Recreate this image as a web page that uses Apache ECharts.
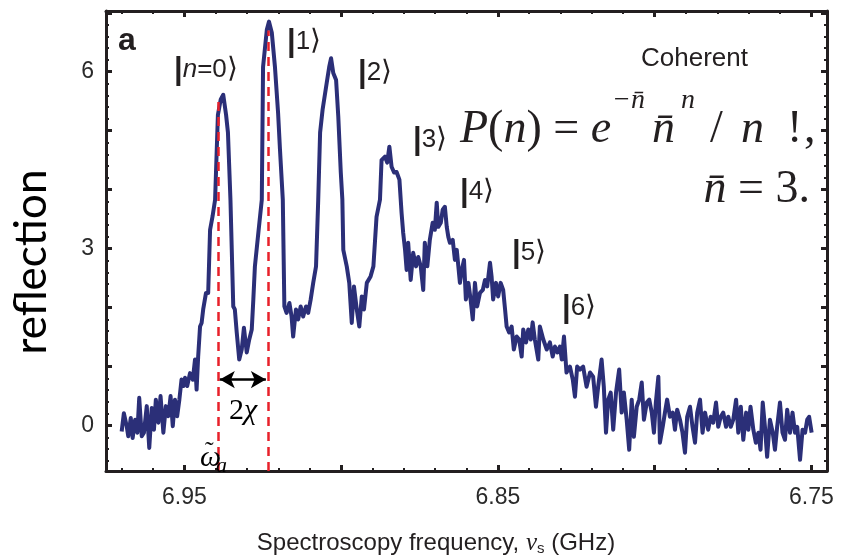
<!DOCTYPE html>
<html><head><meta charset="utf-8">
<script src="https://cdn.jsdelivr.net/npm/echarts@6/dist/echarts.min.js"></script>
<style>html,body{margin:0;padding:0;background:#fff}#c{width:841px;height:558px}</style>
</head><body><div id="c"></div>
<script>
// ---- data ----
const freq = [
6.9700,6.9693,6.9684,6.9679,6.9671,6.9665,6.9657,6.9650,6.9644,6.9636,6.9629,6.9620,6.9612,6.9604,6.9597,6.9591,6.9583,6.9576,6.9567,6.9559,
6.9551,6.9544,6.9537,6.9530,6.9523,6.9516,6.9509,6.9503,6.9498,6.9491,6.9482,6.9473,6.9466,6.9461,6.9456,6.9450,6.9445,6.9440,6.9431,6.9424,
6.9418,6.9410,6.9402,6.9393,6.9384,6.9376,6.9367,6.9361,6.9353,6.9344,6.9339,6.9333,6.9325,6.9317,6.9310,6.9301,6.9293,6.9285,6.9280,6.9275,
6.9264,6.9253,6.9249,6.9237,6.9230,6.9221,6.9211,6.9201,6.9195,6.9186,6.9181,6.9174,6.9165,6.9158,6.9153,6.9144,6.9137,6.9129,6.9121,6.9112,
6.9105,6.9097,6.9089,6.9080,6.9073,6.9067,6.9059,6.9046,6.9038,6.9032,6.9025,6.9016,6.9009,6.9001,6.8996,6.8993,6.8982,6.8974,6.8966,6.8959,
6.8950,6.8942,6.8934,6.8927,6.8918,6.8906,6.8897,6.8887,6.8876,6.8871,6.8860,6.8853,6.8846,6.8839,6.8831,6.8823,6.8814,6.8807,6.8802,6.8796,
6.8791,6.8786,6.8778,6.8770,6.8761,6.8754,6.8746,6.8738,6.8733,6.8725,6.8717,6.8708,6.8701,6.8695,6.8690,6.8682,6.8676,6.8669,6.8663,6.8658,
6.8653,6.8644,6.8637,6.8631,6.8626,6.8621,6.8615,6.8608,6.8602,6.8594,6.8587,6.8580,6.8573,6.8566,6.8557,6.8548,6.8541,6.8534,6.8525,6.8520,
6.8515,6.8506,6.8499,6.8491,6.8483,6.8477,6.8472,6.8464,6.8456,6.8449,6.8440,6.8432,6.8424,6.8419,6.8410,6.8403,6.8395,6.8389,6.8382,6.8371,
6.8366,6.8355,6.8344,6.8334,6.8325,6.8318,6.8310,6.8302,6.8296,6.8289,6.8281,6.8270,6.8261,6.8254,6.8247,6.8238,6.8228,6.8217,6.8206,6.8196,
6.8187,6.8180,6.8169,6.8162,6.8155,6.8148,6.8140,6.8132,6.8123,6.8113,6.8105,6.8098,6.8089,6.8081,6.8073,6.8066,6.8057,6.8049,6.8041,6.8034,
6.8025,6.8017,6.8009,6.8002,6.7996,6.7988,6.7983,6.7974,6.7967,6.7960,6.7951,6.7942,6.7935,6.7928,6.7919,6.7911,6.7903,6.7896,6.7887,6.7879,
6.7871,6.7864,6.7855,6.7847,6.7839,6.7829,6.7821,6.7813,6.7804,6.7797,6.7789,6.7781,6.7772,6.7765,6.7757,6.7749,6.7740,6.7733,6.7725,6.7717,
6.7708,6.7701,6.7694,6.7685,6.7677,6.7669,6.7662,6.7655,6.7648,6.7641,6.7632,6.7623,6.7616,6.7609,6.7600,6.7592,6.7584,6.7577,6.7568,6.7560,
6.7552,6.7545,6.7536,6.7528,6.7520,6.7513,6.7507,6.7499
];
const refl = [
-0.10,0.21,-0.01,-0.18,0.13,-0.21,0.10,-0.12,0.47,-0.18,-0.12,0.33,-0.38,0.30,-0.07,0.44,0.05,0.50,-0.12,0.33,
0.16,0.50,-0.01,0.44,0.16,0.44,0.78,0.67,0.81,0.67,0.89,0.78,1.12,0.61,1.17,1.68,1.74,1.97,2.25,2.25,
3.32,3.55,3.83,5.27,5.53,5.61,5.27,4.97,3.83,2.02,1.97,1.58,1.12,1.29,1.66,1.24,1.46,1.63,2.14,2.70,
3.27,3.83,6.08,6.71,6.85,6.66,6.08,5.30,4.68,3.83,2.02,1.91,2.08,1.85,1.51,1.97,1.80,2.02,1.85,2.02,
1.91,2.14,2.42,2.70,3.83,4.97,5.36,5.81,6.08,6.23,5.98,5.86,5.24,4.29,3.83,2.98,2.70,2.42,1.74,2.36,
1.97,1.68,2.19,1.97,2.42,2.53,2.70,3.54,3.83,4.50,4.56,4.46,4.73,4.39,4.29,4.30,4.17,3.60,3.27,2.98,
2.64,3.10,2.47,2.93,2.70,2.86,2.70,2.30,3.10,2.70,3.15,3.44,3.32,3.78,3.37,3.44,3.66,3.71,3.37,3.20,
3.10,3.15,2.81,2.98,2.70,2.42,2.64,2.81,2.14,2.42,2.14,1.80,2.42,2.02,2.25,2.30,2.47,2.36,2.76,2.53,
2.14,2.42,2.19,2.42,2.30,1.97,1.68,1.58,1.68,1.29,1.51,1.46,1.17,1.63,1.41,1.63,1.46,1.75,1.46,1.12,
1.68,1.46,1.29,1.41,1.17,1.34,1.24,1.34,1.12,1.51,0.90,1.00,0.78,0.49,1.00,0.95,1.00,0.66,0.90,0.83,
0.32,0.66,1.12,0.66,-0.12,0.44,0.56,-0.07,0.56,0.95,0.22,0.56,0.10,-0.41,0.44,-0.19,0.32,0.44,0.73,0.10,
0.39,0.44,0.22,-0.12,0.39,0.83,-0.29,-0.02,0.22,0.44,0.15,0.22,-0.07,0.27,0.10,-0.12,-0.46,0.15,0.32,-0.02,
-0.29,0.22,0.44,-0.12,0.22,-0.07,0.15,0.05,0.39,-0.02,0.15,0.22,-0.02,0.15,-0.02,0.10,0.44,-0.12,0.32,-0.24,
0.22,-0.07,0.32,-0.07,-0.29,-0.12,-0.41,0.39,-0.02,-0.53,0.10,-0.12,-0.41,-0.02,0.39,-0.12,-0.24,0.27,-0.12,0.22,
-0.12,-0.02,-0.58,-0.07,-0.12,0.10,0.15,-0.12
];
// red dashed markers (transition frequencies) and their top values
const dashFreq = [6.9393, 6.9233];
const dashTop = [5.55, 6.70];
// 2chi arrow
const arrowFreq = [6.9387, 6.9240];
const arrowLevel = 0.78;
// axis ticks / labels
const xLabelVals = [6.95, 6.85, 6.75];
const xMajorVals = [6.95, 6.90, 6.85, 6.80, 6.75];
const yLabelVals = [0, 3, 6];
const yMajorVals = [0, 1, 2, 3, 4, 5, 6, 7];
const X_MIN = 6.745, X_MAX = 6.975, Y_MIN = -0.77, Y_MAX = 7.03;
const xMinorVals = []; for (let k = 675; k <= 697; k++) xMinorVals.push(k / 100);
const yMinorVals = []; for (let k = -3; k <= 35; k++) yMinorVals.push(k / 5);

const INK = '#231f20';
const chart = echarts.init(document.getElementById('c'));
const gridRect = {left: 106, top: 11, width: 721, height: 460, containLabel: false, outerBoundsMode: 'none'};

function xAx(gi, pos, ticks, len, w, line, labels) {
  return {type: 'value', gridIndex: gi, position: pos, min: X_MIN, max: X_MAX, inverse: true,
    axisLine: {show: line, onZero: false, lineStyle: {color: INK, width: 3}},
    axisTick: {show: true, inside: true, length: len, lineStyle: {color: INK, width: w}, customValues: ticks},
    axisLabel: labels ? {show: true, customValues: xLabelVals, formatter: v => v.toFixed(2), fontSize: 23,
      fontFamily: 'Liberation Sans', color: '#2a2a2a', margin: 15} : {show: false},
    splitLine: {show: false}, minorTick: {show: false}};
}
function yAx(gi, pos, ticks, len, w, line, labels) {
  return {type: 'value', gridIndex: gi, position: pos, min: Y_MIN, max: Y_MAX,
    axisLine: {show: line, onZero: false, lineStyle: {color: INK, width: 3}},
    axisTick: {show: true, inside: true, length: len, lineStyle: {color: INK, width: w}, customValues: ticks},
    axisLabel: labels ? {show: true, customValues: yLabelVals, fontSize: 23,
      fontFamily: 'Liberation Sans', color: '#2a2a2a', margin: 12} : {show: false},
    splitLine: {show: false}, minorTick: {show: false}};
}

const lineData = freq.map((f, i) => [f, refl[i]]);
const dashLines = dashFreq.map((f, i) => [{coord: [f, Y_MIN]}, {coord: [f, dashTop[i]]}]);
const arrowLine = [[{coord: [arrowFreq[0], arrowLevel]}, {coord: [arrowFreq[1], arrowLevel]}]];

const serif = 'Liberation Serif';
const sans = 'Liberation Sans';
function ket(x, y, inner) {
  return {type: 'text', x: x, y: y, z: 10, style: {
    text: '{b||}' + inner + '{a|⟩}', verticalAlign: 'middle', align: 'left', fill: INK,
    rich: {
      b: {fontFamily: sans, fontSize: 31, fontWeight: 'bold', fill: INK},
      d: {fontFamily: sans, fontSize: 26, fill: INK},
      i: {fontFamily: sans, fontSize: 26, fontStyle: 'italic', fill: INK},
      a: {fontFamily: 'DejaVu Sans', fontSize: 28, fontWeight: 200, fill: INK}
    }}};
}
function t(x, y, txt, font, align, color) {
  return {type: 'text', x: x, y: y, z: 10, style: {text: txt, font: font, fill: color || INK,
    align: align || 'left', verticalAlign: 'middle'}};
}
const big = 'italic 46px "Liberation Serif"';
const bigR = '46px "Liberation Serif"';

const option = {
  backgroundColor: '#fff',
  animation: false,
  grid: [gridRect, Object.assign({}, gridRect)],
  xAxis: [
    xAx(0, 'bottom', xMajorVals, 6, 3, true, true),
    xAx(0, 'top', xMajorVals, 6, 3, true, false),
    xAx(1, 'bottom', xMinorVals, 3, 2, false, false),
    xAx(1, 'top', xMinorVals, 3, 2, false, false)
  ],
  yAxis: [
    yAx(0, 'left', yMajorVals, 6, 3, true, true),
    yAx(0, 'right', yMajorVals, 6, 3, true, false),
    yAx(1, 'left', yMinorVals, 3, 2, false, false),
    yAx(1, 'right', yMinorVals, 3, 2, false, false)
  ],
  series: [
    {type: 'line', xAxisIndex: 0, yAxisIndex: 0, data: lineData, showSymbol: false, symbol: 'none',
      lineStyle: {color: '#2b2f78', width: 4, join: 'round'}, z: 3, silent: true},
    {type: 'line', xAxisIndex: 0, yAxisIndex: 0, data: [], z: 5, silent: true,
      markLine: {silent: true, symbol: ['none', 'none'], label: {show: false},
        lineStyle: {color: '#e8202a', width: 2.5, type: [9, 6]}, data: dashLines, animation: false}},
    {type: 'line', xAxisIndex: 0, yAxisIndex: 0, data: [], z: 6, silent: true,
      markLine: {silent: true, symbol: ['arrow', 'arrow'], symbolSize: [13, 15], label: {show: false},
        lineStyle: {color: '#000', width: 2.5, type: 'solid'}, data: arrowLine, animation: false}}
  ],
  graphic: [
    t(118, 41, 'a', 'bold 32px "Liberation Sans"'),
    ket(174, 70, '{i|n}{d|=0}'),
    ket(287, 42, '{d|1}'),
    ket(358, 73, '{d|2}'),
    ket(413, 140, '{d|3}'),
    ket(460, 192, '{d|4}'),
    ket(512, 253, '{d|5}'),
    ket(562, 308, '{d|6}'),
    t(641, 59, 'Coherent', '26px "Liberation Sans"'),
    {type: 'text', x: 460, y: 130, style: {text: '{i|P}{r|(}{i|n}{r|) = }{i|e}', verticalAlign: 'middle', align: 'left',
      rich: {i: {fontFamily: serif, fontSize: 46, fontStyle: 'italic', fill: INK}, r: {fontFamily: serif, fontSize: 46, fill: INK}}}},
    t(612, 101, '−n̄', 'italic 28px "Liberation Serif"'),
    t(652, 130, 'n̄', big),
    t(681, 101, 'n', 'italic 28px "Liberation Serif"'),
    t(710, 130, '/', bigR),
    t(741, 130, 'n', big),
    t(787, 130, '!', bigR),
    t(804, 130, ',', bigR),
    {type: 'text', x: 810, y: 190, style: {text: '{i|n̄}{r| = 3.}', verticalAlign: 'middle', align: 'right',
      rich: {i: {fontFamily: serif, fontSize: 46, fontStyle: 'italic', fill: INK}, r: {fontFamily: serif, fontSize: 46, fill: INK}}}},
    {type: 'text', x: 243, y: 411, style: {text: '{r|2}{i|χ}', verticalAlign: 'middle', align: 'center',
      rich: {i: {fontFamily: serif, fontSize: 30, fontStyle: 'italic', fill: '#000'}, r: {fontFamily: serif, fontSize: 30, fill: '#000'}}}},
    t(200, 458, 'ω', 'italic 30px "Liberation Serif"', 'left', '#000'),
    t(205, 452, '˜', '26px "Liberation Serif"', 'left', '#000'),
    t(216, 466, 'a', 'italic 22px "Liberation Serif"', 'left', '#000'),
    {type: 'text', x: 436, y: 543, style: {text: '{t|Spectroscopy frequency, }{n|ν}{s|s}{t| (GHz)}', verticalAlign: 'middle', align: 'center',
      rich: {t: {fontFamily: sans, fontSize: 24, fill: INK, lineHeight: 27},
             n: {fontFamily: serif, fontSize: 25, fontStyle: 'italic', fill: INK, lineHeight: 27},
             s: {fontFamily: sans, fontSize: 15, fill: INK, lineHeight: 15, verticalAlign: 'bottom'}}}},
    {type: 'text', x: 32, y: 262, rotation: Math.PI / 2, style: {text: 'reflection', font: '44px Lato', fill: '#000', align: 'center', verticalAlign: 'middle'}}
  ]
};
chart.setOption(option);
</script></body></html>
